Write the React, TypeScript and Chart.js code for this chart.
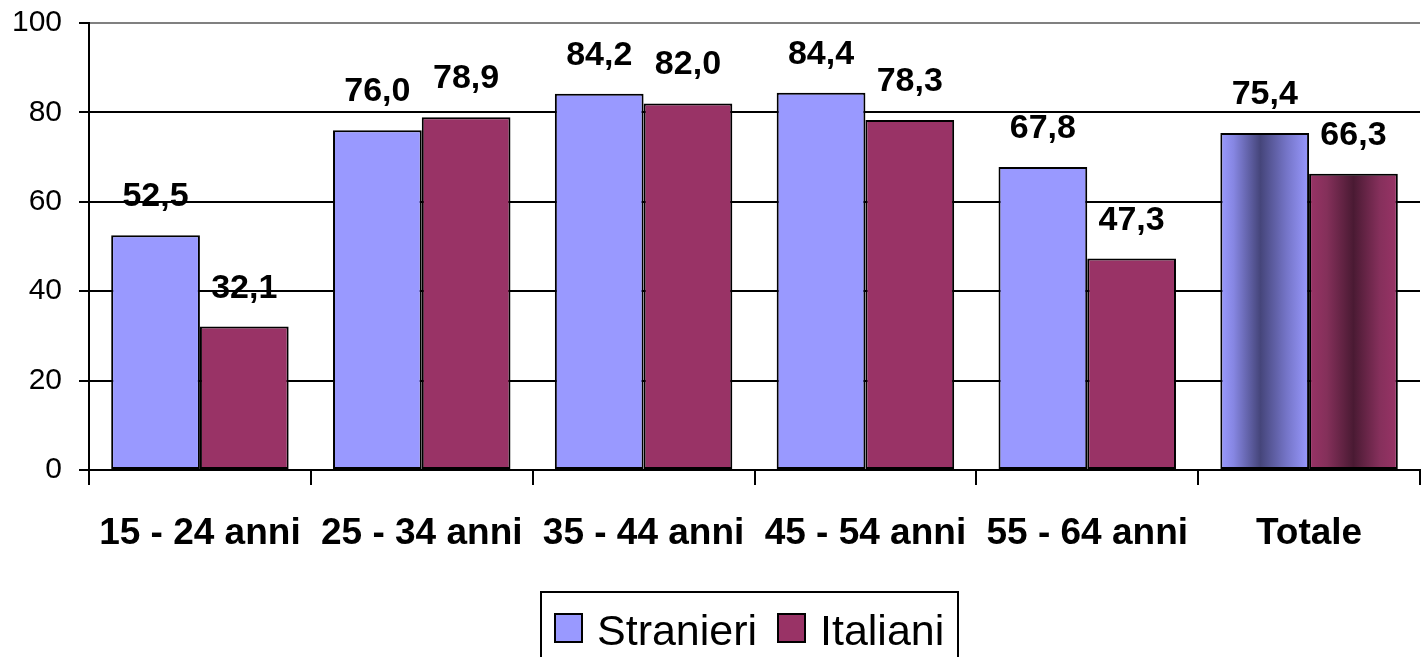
import React, { useEffect, useRef } from "react";
import { Chart, registerables } from "chart.js";

Chart.register(...registerables);

const categories = ["15 - 24 anni", "25 - 34 anni", "35 - 44 anni", "45 - 54 anni", "55 - 64 anni", "Totale"];
const stranieri = [52.5, 76.0, 84.2, 84.4, 67.8, 75.4];
const italiani = [32.1, 78.9, 82.0, 78.3, 47.3, 66.3];
const seriesNames = ["Stranieri", "Italiani"];
const seriesColors = ["#9999FF", "#993366"];
const yTicks = [0, 20, 40, 60, 80, 100];

const FONT = "Arial, 'Liberation Sans', sans-serif";

const fmt = (v: number) => v.toFixed(1).replace(".", ",");

const gradientPlugin = {
  id: "totaleGradient",
  beforeDatasetsDraw(chart: any) {
    const ctx = chart.ctx;
    const stops = [
      [[0, "#9999FF"], [0.15, "#8686E2"], [0.45, "#45457A"], [0.75, "#7575C8"], [1, "#9999FF"]],
      [[0, "#993366"], [0.2, "#84305A"], [0.5, "#4A1A33"], [0.8, "#86305C"], [1, "#993366"]],
    ];
    chart.data.datasets.forEach((_: any, di: number) => {
      const meta = chart.getDatasetMeta(di);
      const el = meta.data[categories.length - 1];
      if (!el) return;
      const left = el.x - el.width / 2;
      const right = el.x + el.width / 2;
      const g = ctx.createLinearGradient(left, 0, right, 0);
      stops[di].forEach(([o, c]: any) => g.addColorStop(o, c));
      el.options = { ...el.options, backgroundColor: g };
    });
  },
};

const labelPlugin = {
  id: "valueLabels",
  afterDatasetsDraw(chart: any) {
    const ctx = chart.ctx;
    ctx.save();
    ctx.font = `bold 34px ${FONT}`;
    ctx.fillStyle = "#000";
    ctx.textAlign = "center";
    ctx.textBaseline = "alphabetic";
    chart.data.datasets.forEach((ds: any, di: number) => {
      const meta = chart.getDatasetMeta(di);
      meta.data.forEach((el: any, i: number) => {
        ctx.fillText(fmt(ds.data[i]), el.x, el.y - 29);
      });
    });
    ctx.restore();
  },
};

const legendPlugin = {
  id: "boxLegend",
  afterDraw(chart: any) {
    const ctx = chart.ctx;
    ctx.save();
    ctx.lineWidth = 2;
    ctx.strokeStyle = "#000";
    ctx.strokeRect(541, 592, 417, 90);
    ctx.font = `43px ${FONT}`;
    ctx.textBaseline = "alphabetic";
    ctx.textAlign = "left";
    const items = [
      { sx: 555, tx: 597 },
      { sx: 778, tx: 820 },
    ];
    items.forEach((it, i) => {
      ctx.fillStyle = seriesColors[i];
      ctx.fillRect(it.sx, 614, 27, 28);
      ctx.strokeRect(it.sx, 614, 27, 28);
      ctx.fillStyle = "#000";
      ctx.fillText(seriesNames[i], it.tx, 645);
    });
    ctx.restore();
  },
};

export default function App() {
  const ref = useRef<HTMLCanvasElement>(null);
  useEffect(() => {
    document.body.style.margin = "0";
    document.body.style.overflow = "hidden";
    const chart = new Chart(ref.current!, {
      type: "bar",
      data: {
        labels: categories,
        datasets: [
          { label: seriesNames[0], data: stranieri, backgroundColor: seriesColors[0] },
          { label: seriesNames[1], data: italiani, backgroundColor: seriesColors[1] },
        ],
      },
      options: {
        responsive: false,
        animation: false,
        devicePixelRatio: 1,
        layout: { padding: { top: 23, right: 2, bottom: 0, left: 0 } },
        datasets: {
          bar: {
            categoryPercentage: 0.8,
            barPercentage: 1.0,
            borderColor: "#000",
            borderWidth: 2,
            borderSkipped: false,
          },
        },
        plugins: {
          legend: { display: false },
          tooltip: { enabled: false },
        },
        scales: {
          x: {
            offset: true,
            grid: {
              display: true,
              drawOnChartArea: false,
              offset: true,
              tickLength: 15,
              color: "#000",
              lineWidth: 2,
            },
            border: { display: true, color: "#000", width: 2 },
            ticks: {
              color: "#000",
              font: { family: FONT, size: 37, weight: "bold" },
              padding: 27,
              maxRotation: 0,
              autoSkip: false,
            },
            afterFit(scale: any) {
              scale.height = 187;
              scale.paddingLeft = 0;
              scale.paddingRight = 0;
            },
          },
          y: {
            min: 0,
            max: 100,
            afterBuildTicks(scale: any) {
              scale.ticks = yTicks.map((v) => ({ value: v }));
            },
            grid: {
              color: (c: any) => (c.tick && c.tick.value === 100 ? "#808080" : "#000"),
              tickColor: "#000",
              lineWidth: 2,
              tickLength: 10,
            },
            border: { display: true, color: "#000", width: 2 },
            ticks: {
              color: "#000",
              font: { family: FONT, size: 30 },
              padding: 17,
            },
            afterFit(scale: any) {
              scale.width = 89;
              scale.paddingTop = 0;
              scale.paddingBottom = 0;
            },
          },
        },
      },
      plugins: [gradientPlugin, labelPlugin, legendPlugin],
    });
    return () => chart.destroy();
  }, []);
  return (
    <div style={{ position: "absolute", left: 0, top: 0, width: 1422, height: 657 }}>
      <canvas ref={ref} width={1422} height={657} style={{ display: "block" }} />
    </div>
  );
}
